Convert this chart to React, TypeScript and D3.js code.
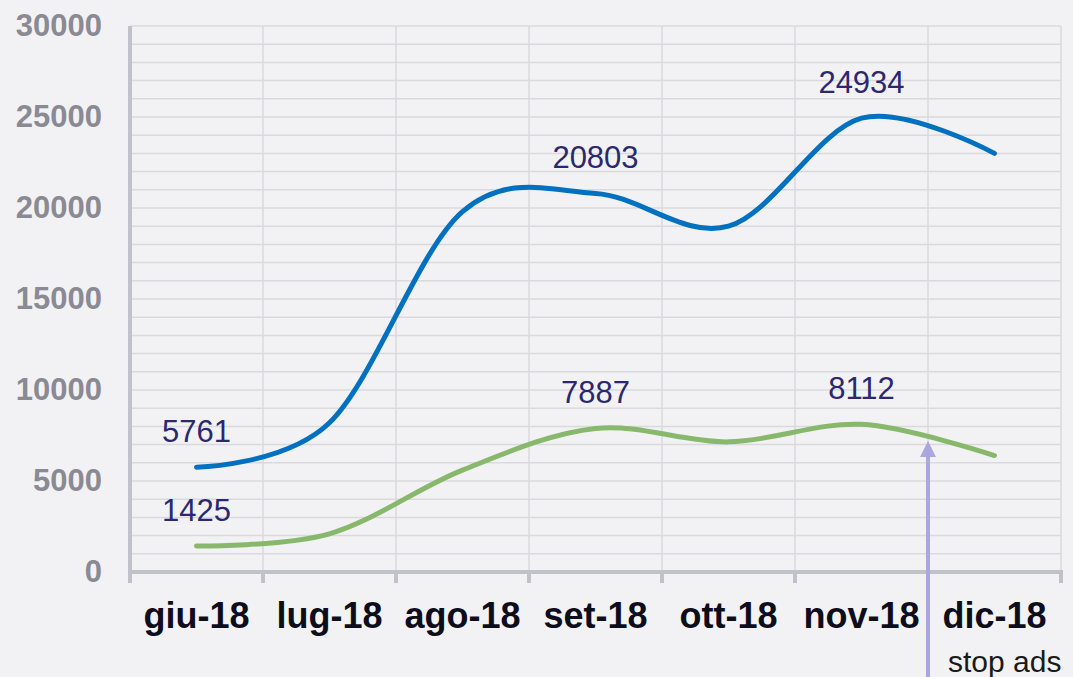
import React, { useEffect, useRef } from 'react';
import * as d3 from 'd3';

// data
const months = ['giu-18', 'lug-18', 'ago-18', 'set-18', 'ott-18', 'nov-18', 'dic-18'];
const visits = [5761, 8200, 19800, 20803, 19000, 24934, 23000];
const users = [1425, 2100, 5600, 7887, 7150, 8112, 6400];
const labelIdx = [0, 3, 5];
const yTicks = [0, 5000, 10000, 15000, 20000, 25000, 30000];
const stopMonth = 'dic-18';
const stopLabel = 'stop ads';

const WIDTH = 1073;
const HEIGHT = 677;

const App = () => {
  const ref = useRef<SVGSVGElement>(null);

  useEffect(() => {
    const svg = d3.select(ref.current);
    svg.selectAll('*').remove();

    const margin = { top: 26, right: 12, bottom: 105, left: 130 };
    const innerW = WIDTH - margin.left - margin.right;
    const innerH = HEIGHT - margin.top - margin.bottom;

    svg.append('rect').attr('width', WIDTH).attr('height', HEIGHT).attr('fill', '#f2f2f4');

    const g = svg.append('g').attr('transform', `translate(${margin.left},${margin.top})`);

    const x = d3.scaleBand<string>().domain(months).range([0, innerW]).padding(0);
    const y = d3.scaleLinear().domain([0, 30000]).range([innerH, 0]);
    const cx = (m: string) => (x(m) as number) + x.bandwidth() / 2;

    // horizontal grid every 1000
    g.append('g')
      .selectAll('line')
      .data(d3.range(1000, 30001, 1000))
      .join('line')
      .attr('x1', 0)
      .attr('x2', innerW)
      .attr('y1', d => y(d))
      .attr('y2', d => y(d))
      .attr('stroke', '#d9d9df')
      .attr('stroke-width', 1.5);

    // vertical grid at category boundaries
    g.append('g')
      .selectAll('line')
      .data(months)
      .join('line')
      .attr('x1', d => (x(d) as number) + x.bandwidth())
      .attr('x2', d => (x(d) as number) + x.bandwidth())
      .attr('y1', 0)
      .attr('y2', innerH)
      .attr('stroke', '#d9d9df')
      .attr('stroke-width', 1.5);

    // axes lines
    g.append('line')
      .attr('x1', 0).attr('x2', 0)
      .attr('y1', 0).attr('y2', innerH + 11)
      .attr('stroke', '#c1c1c9').attr('stroke-width', 4);
    g.append('line')
      .attr('x1', -2).attr('x2', innerW + 2)
      .attr('y1', innerH).attr('y2', innerH)
      .attr('stroke', '#c1c1c9').attr('stroke-width', 4);
    g.append('g')
      .selectAll('line')
      .data(months)
      .join('line')
      .attr('x1', d => (x(d) as number) + x.bandwidth())
      .attr('x2', d => (x(d) as number) + x.bandwidth())
      .attr('y1', innerH)
      .attr('y2', innerH + 11)
      .attr('stroke', '#c1c1c9')
      .attr('stroke-width', 4);

    // y tick labels
    g.append('g')
      .selectAll('text')
      .data(yTicks)
      .join('text')
      .attr('x', -28)
      .attr('y', d => y(d) + 10)
      .attr('text-anchor', 'end')
      .style('font-family', '"Liberation Sans", Arial, sans-serif')
      .style('font-weight', 'bold')
      .style('font-size', '31px')
      .attr('fill', '#8a8a95')
      .text(d => d);

    // x labels
    g.append('g')
      .selectAll('text')
      .data(months)
      .join('text')
      .attr('x', d => cx(d))
      .attr('y', innerH + 56)
      .attr('text-anchor', 'middle')
      .style('font-family', '"Liberation Sans", Arial, sans-serif')
      .style('font-weight', 'bold')
      .style('font-size', '36px')
      .attr('fill', '#0e0d1c')
      .text(d => d);

    const line = d3.line<number>()
      .x((_, i) => cx(months[i]))
      .y(d => y(d))
      .curve(d3.curveCardinal.tension(0));

    const series = [
      { values: visits, color: '#0070c0' },
      { values: users, color: '#88b86c' }
    ];

    series.forEach(s => {
      g.append('path')
        .datum(s.values)
        .attr('fill', 'none')
        .attr('stroke', s.color)
        .attr('stroke-width', 5)
        .attr('stroke-linecap', 'round')
        .attr('d', line);

      g.append('g')
        .selectAll('text')
        .data(labelIdx)
        .join('text')
        .attr('x', i => cx(months[i]))
        .attr('y', i => y(s.values[i]) - 25)
        .attr('text-anchor', 'middle')
        .style('font-family', '"Liberation Sans", Arial, sans-serif')
        .style('font-size', '31px')
        .attr('fill', '#2c2870')
        .text(i => s.values[i]);
    });

    // stop ads arrow
    const ax = x(stopMonth) as number;
    const si = months.indexOf(stopMonth);
    // tip sits on the green curve at the nov/dic boundary
    const tipY = y((users[si - 1] + users[si]) / 2) + 1;
    g.append('line')
      .attr('x1', ax).attr('x2', ax)
      .attr('y1', tipY + 14).attr('y2', HEIGHT - margin.top)
      .attr('stroke', '#aaa6e0').attr('stroke-width', 4);
    g.append('path')
      .attr('d', `M${ax},${tipY} L${ax - 8},${tipY + 16} L${ax + 8},${tipY + 16} Z`)
      .attr('fill', '#aaa6e0');
    g.append('text')
      .attr('x', ax + 20)
      .attr('y', HEIGHT - margin.top - 5)
      .style('font-family', '"Liberation Sans", Arial, sans-serif')
      .style('font-size', '30px')
      .attr('fill', '#1a1a1a')
      .text(stopLabel);
  }, []);

  return (
    <svg
      ref={ref}
      width={WIDTH}
      height={HEIGHT}
      style={{ position: 'absolute', left: 0, top: 0, display: 'block' }}
    />
  );
};

export default App;
